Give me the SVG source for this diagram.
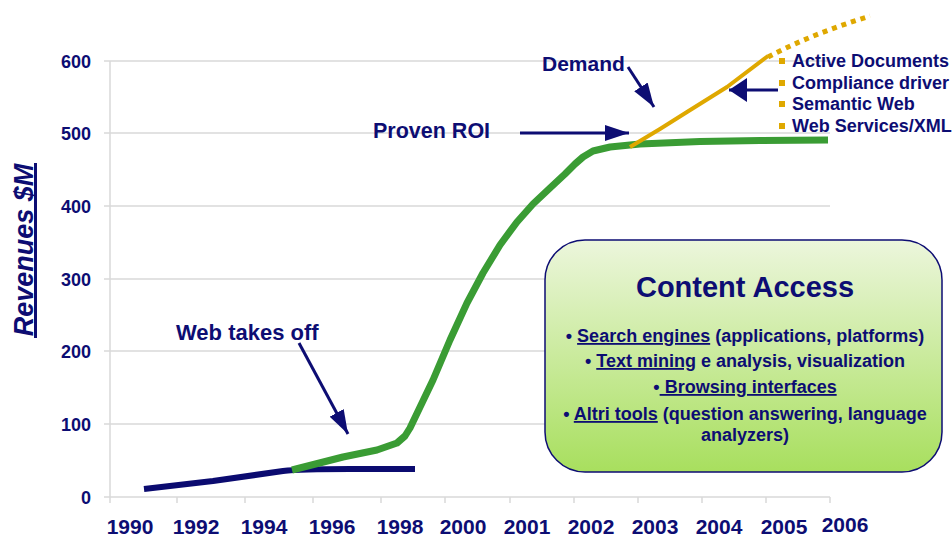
<svg xmlns="http://www.w3.org/2000/svg" width="952" height="537" viewBox="0 0 952 537">
<style>
.t{font-family:"Liberation Sans",Arial,sans-serif;font-weight:bold;fill:#0d0d73}
.ax{font-size:18px;text-anchor:end}
.yr{font-size:21px;text-anchor:middle}
.grid{stroke:#d9d9d9;stroke-width:1.5;fill:none}
.lst{font-size:18px}
.box{font-size:18px;text-anchor:middle}
.u{text-decoration:underline}
.arr{stroke:#0d0d73;stroke-width:3;fill:none}
.ln{fill:none;stroke-linejoin:round;stroke-linecap:butt}
</style>
<defs>
<linearGradient id="g" x1="0" y1="0" x2="0" y2="1">
<stop offset="0" stop-color="#ecf6dc"/>
<stop offset="1" stop-color="#a8df5e"/>
</linearGradient>
<marker id="ah" viewBox="0 0 24 16" refX="24" refY="8" markerWidth="24" markerHeight="16" markerUnits="userSpaceOnUse" orient="auto">
<path d="M0,0 L24,8 L0,16 z" fill="#0d0d73"/>
</marker>
<marker id="ah2" viewBox="0 0 18 24" refX="18" refY="12" markerWidth="18" markerHeight="24" markerUnits="userSpaceOnUse" orient="auto">
<path d="M0,0 L18,12 L0,24 z" fill="#0d0d73"/>
</marker>
</defs>
<rect width="952" height="537" fill="#fff"/>
<g id="axes">
<path class="grid" d="M104,61H830M104,133H830M104,206H830M104,279H830M104,351H830M104,424H830M104,497H830M110,61V503"/>
<path class="grid" d="M177,497V503M245,497V503M313,497V503M381,497V503M445,497V503M510,497V503M574,497V503M638,497V503M702,497V503M766,497V503M830,497V503"/>
<text class="t ax" x="91" y="68">600</text>
<text class="t ax" x="91" y="140">500</text>
<text class="t ax" x="91" y="213">400</text>
<text class="t ax" x="91" y="286">300</text>
<text class="t ax" x="91" y="358">200</text>
<text class="t ax" x="91" y="431">100</text>
<text class="t ax" x="91" y="504">0</text>
<text class="t yr" x="130" y="534">1990</text>
<text class="t yr" x="196" y="534">1992</text>
<text class="t yr" x="264" y="534">1994</text>
<text class="t yr" x="332" y="534">1996</text>
<text class="t yr" x="400" y="534">1998</text>
<text class="t yr" x="463" y="534">2000</text>
<text class="t yr" x="527" y="534">2001</text>
<text class="t yr" x="591" y="534">2002</text>
<text class="t yr" x="655" y="534">2003</text>
<text class="t yr" x="719" y="534">2004</text>
<text class="t yr" x="784" y="534">2005</text>
<text class="t yr" x="845" y="532">2006</text>
<text class="t" transform="translate(33,250) rotate(-90)" text-anchor="middle" font-size="27" font-style="italic">Revenues $M</text>
<line x1="35.5" y1="163" x2="35.5" y2="338" stroke="#0d0d73" stroke-width="3"/>
</g>
<g id="content-access">
<rect x="545" y="240" width="397" height="232" rx="40" ry="40" fill="url(#g)" stroke="#0d0d73" stroke-width="1.5"/>
<text class="t" x="745" y="297" font-size="29" text-anchor="middle">Content Access</text>
<text class="t box" x="745" y="342">• <tspan class="u">Search engines</tspan> (applications, platforms)</text>
<text class="t box" x="745" y="367">• <tspan class="u">Text mining</tspan> e analysis, visualization</text>
<text class="t box" x="745" y="393">•<tspan class="u"> Browsing interfaces</tspan></text>
<text class="t box" x="745" y="420">• <tspan class="u">Altri tools</tspan> (question answering, language</text>
<text class="t box" x="745" y="441">analyzers)</text>
</g>
<g id="series">
<path class="ln" d="M144,489 L213,481 L283,471 Q300,469 350,469 L415,469" stroke="#0b0b70" stroke-width="6"/>
<path class="ln" d="M292,470 L343,457 L377,450 L397,443 L405,436 L410,428 L433,380 L450,340 L467,303 L483,273 L500,245 L517,222 L533,204 L550,188 L565,174 L575,164 L583,157 L593,151 L610,147 L640,144 L700,141.5 L760,140.5 L828,140" stroke="#3a9c34" stroke-width="7"/>
<path class="ln" d="M630,147 L660,129 L687,112 L727,87 L768,56" stroke="#dfa800" stroke-width="4"/>
<path d="M768,57 C800,40 835,27 870,16" stroke="#dfa800" stroke-width="5" stroke-dasharray="5,5" fill="none"/>
</g>
<g id="legend">
<rect x="779" y="58" width="6" height="6" fill="#dfa800"/>
<rect x="779" y="80" width="6" height="6" fill="#dfa800"/>
<rect x="779" y="101" width="6" height="6" fill="#dfa800"/>
<rect x="779" y="123" width="6" height="6" fill="#dfa800"/>
<text class="t lst" x="792" y="67">Active Documents</text>
<text class="t lst" x="792" y="89">Compliance driver</text>
<text class="t lst" x="792" y="110">Semantic Web</text>
<text class="t lst" x="792" y="132">Web Services/XML</text>
</g>
<g id="labels">
<text class="t" x="542" y="71" font-size="21">Demand</text>
<text class="t" x="373" y="138" font-size="21.5">Proven ROI</text>
<text class="t" x="176" y="340" font-size="22">Web takes off</text>
</g>
<g id="connectors">
<line class="arr" x1="520" y1="133" x2="629" y2="133" marker-end="url(#ah)"/>
<line class="arr" x1="628" y1="67" x2="654" y2="107" marker-end="url(#ah)"/>
<line class="arr" x1="778" y1="90" x2="729" y2="90" marker-end="url(#ah2)"/>
<line class="arr" x1="299" y1="343" x2="348" y2="434" marker-end="url(#ah)"/>
</g>
</svg>
